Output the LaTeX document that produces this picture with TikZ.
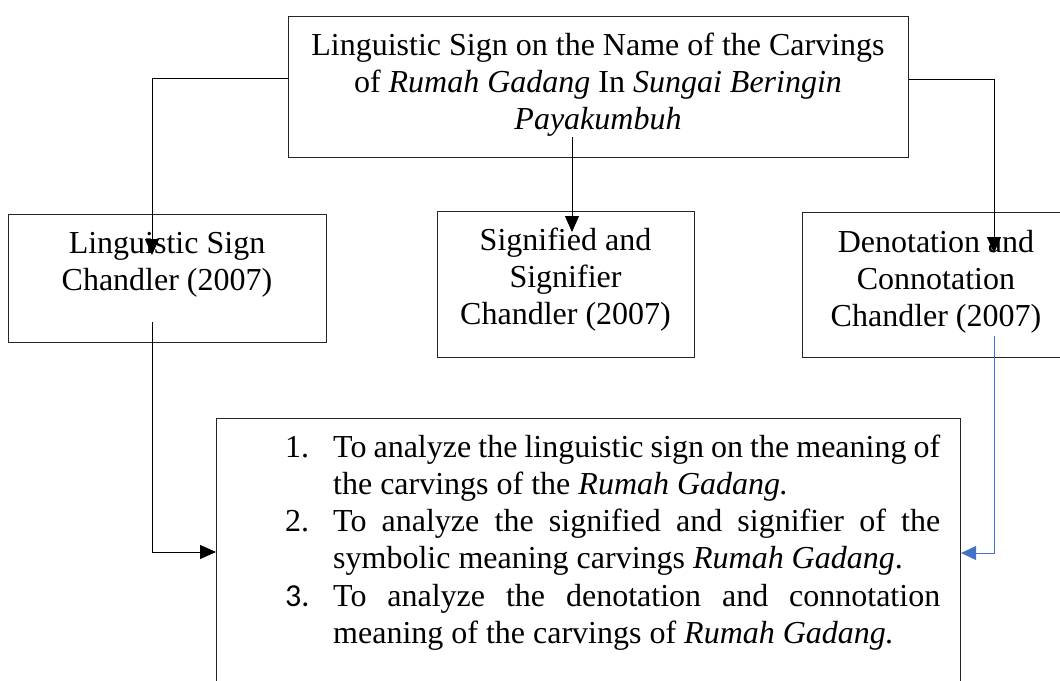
\documentclass[tikz,border=0pt]{standalone}
\usepackage{fontspec}
\setmainfont{Liberation Serif}
\newfontfamily\calibfont{Carlito}
\usetikzlibrary{arrows.meta}
\definecolor{blueline}{HTML}{4472C4}
\newcommand\myfs{\fontsize{32}{37.3}\selectfont}
\begin{document}
\begin{tikzpicture}[x=1pt,y=-1pt,
  box/.style={draw=black!85, line width=1.1pt, inner sep=0pt, anchor=north west},
  txt/.style={inner sep=0pt, anchor=base},
  conn/.style={draw=black, line width=0.9pt, -{Triangle[length=16pt,width=14pt]}},
  bconn/.style={draw=blueline, line width=0.9pt, -{Triangle[length=15pt,width=14pt]}}]
\clip (0,0) rectangle (1060,680);
% boxes
\node[box, minimum width=620pt, minimum height=141pt] (top) at (288,16) {};
\node[box, minimum width=318pt, minimum height=128pt] (left) at (8,214) {};
\node[box, minimum width=257pt, minimum height=146pt] (mid) at (437,211) {};
\node[box, minimum width=268pt, minimum height=145pt] (right) at (802,212) {};
\node[box, minimum width=744pt, minimum height=300pt] (goalbox) at (216,418) {};
% texts
\node[txt] (toptext) at (598,55) {\parbox[t]{610pt}{\centering\myfs Linguistic Sign on the Name of the Carvings\\ of \textit{Rumah Gadang} In \textit{Sungai Beringin}\\ \textit{Payakumbuh}}};
\node[txt] (lefttext) at (167,253) {\parbox[t]{310pt}{\centering\myfs Linguistic Sign\\ Chandler (2007)}};
\node[txt] (midtext) at (565.5,250) {\parbox[t]{255pt}{\centering\myfs Signified and\\ Signifier\\ Chandler (2007)}};
\node[txt] (righttext) at (936,252) {\parbox[t]{265pt}{\centering\myfs Denotation and\\ Connotation\\ Chandler (2007)}};
\node[inner sep=0pt, anchor=base west] (goals) at (285,457) {\parbox[t]{655pt}{\myfs
\hangindent=48pt\hangafter=1\noindent\makebox[48pt][l]{1.}To analyze the linguistic sign on the meaning of\linebreak the carvings of the \textit{Rumah Gadang.}\par
\hangindent=48pt\hangafter=1\noindent\makebox[48pt][l]{2.}To analyze the signified and signifier of the\linebreak symbolic meaning carvings \textit{Rumah Gadang}.\par
\hangindent=48pt\hangafter=1\noindent\makebox[48pt][l]{\calibfont 3.}To analyze the denotation and connotation\linebreak meaning of the carvings of \textit{Rumah Gadang.}\par}};
% connectors
\coordinate (lTurn) at (152,78);
\coordinate (lTip) at (152,255);
\draw[conn] (top.west |- lTurn) -- (lTurn) -- (lTip);
\coordinate (rTurn) at (994,79);
\coordinate (rTip) at (994,253);
\draw[conn] (top.east |- rTurn) -- (rTurn) -- (rTip);
\coordinate (mStart) at (572,137);
\coordinate (mTip) at (572,232);
\draw[conn] (mStart) -- (mTip);
\coordinate (lbStart) at (152,322);
\coordinate (lbTurn) at (152,552);
\draw[conn] (lbStart) -- (lbTurn) -- (goalbox.west |- lbTurn);
\coordinate (rbStart) at (994,336);
\coordinate (rbTurn) at (994,553);
\draw[bconn] (rbStart) -- (rbTurn) -- (goalbox.east |- rbTurn);
\end{tikzpicture}
\end{document}
